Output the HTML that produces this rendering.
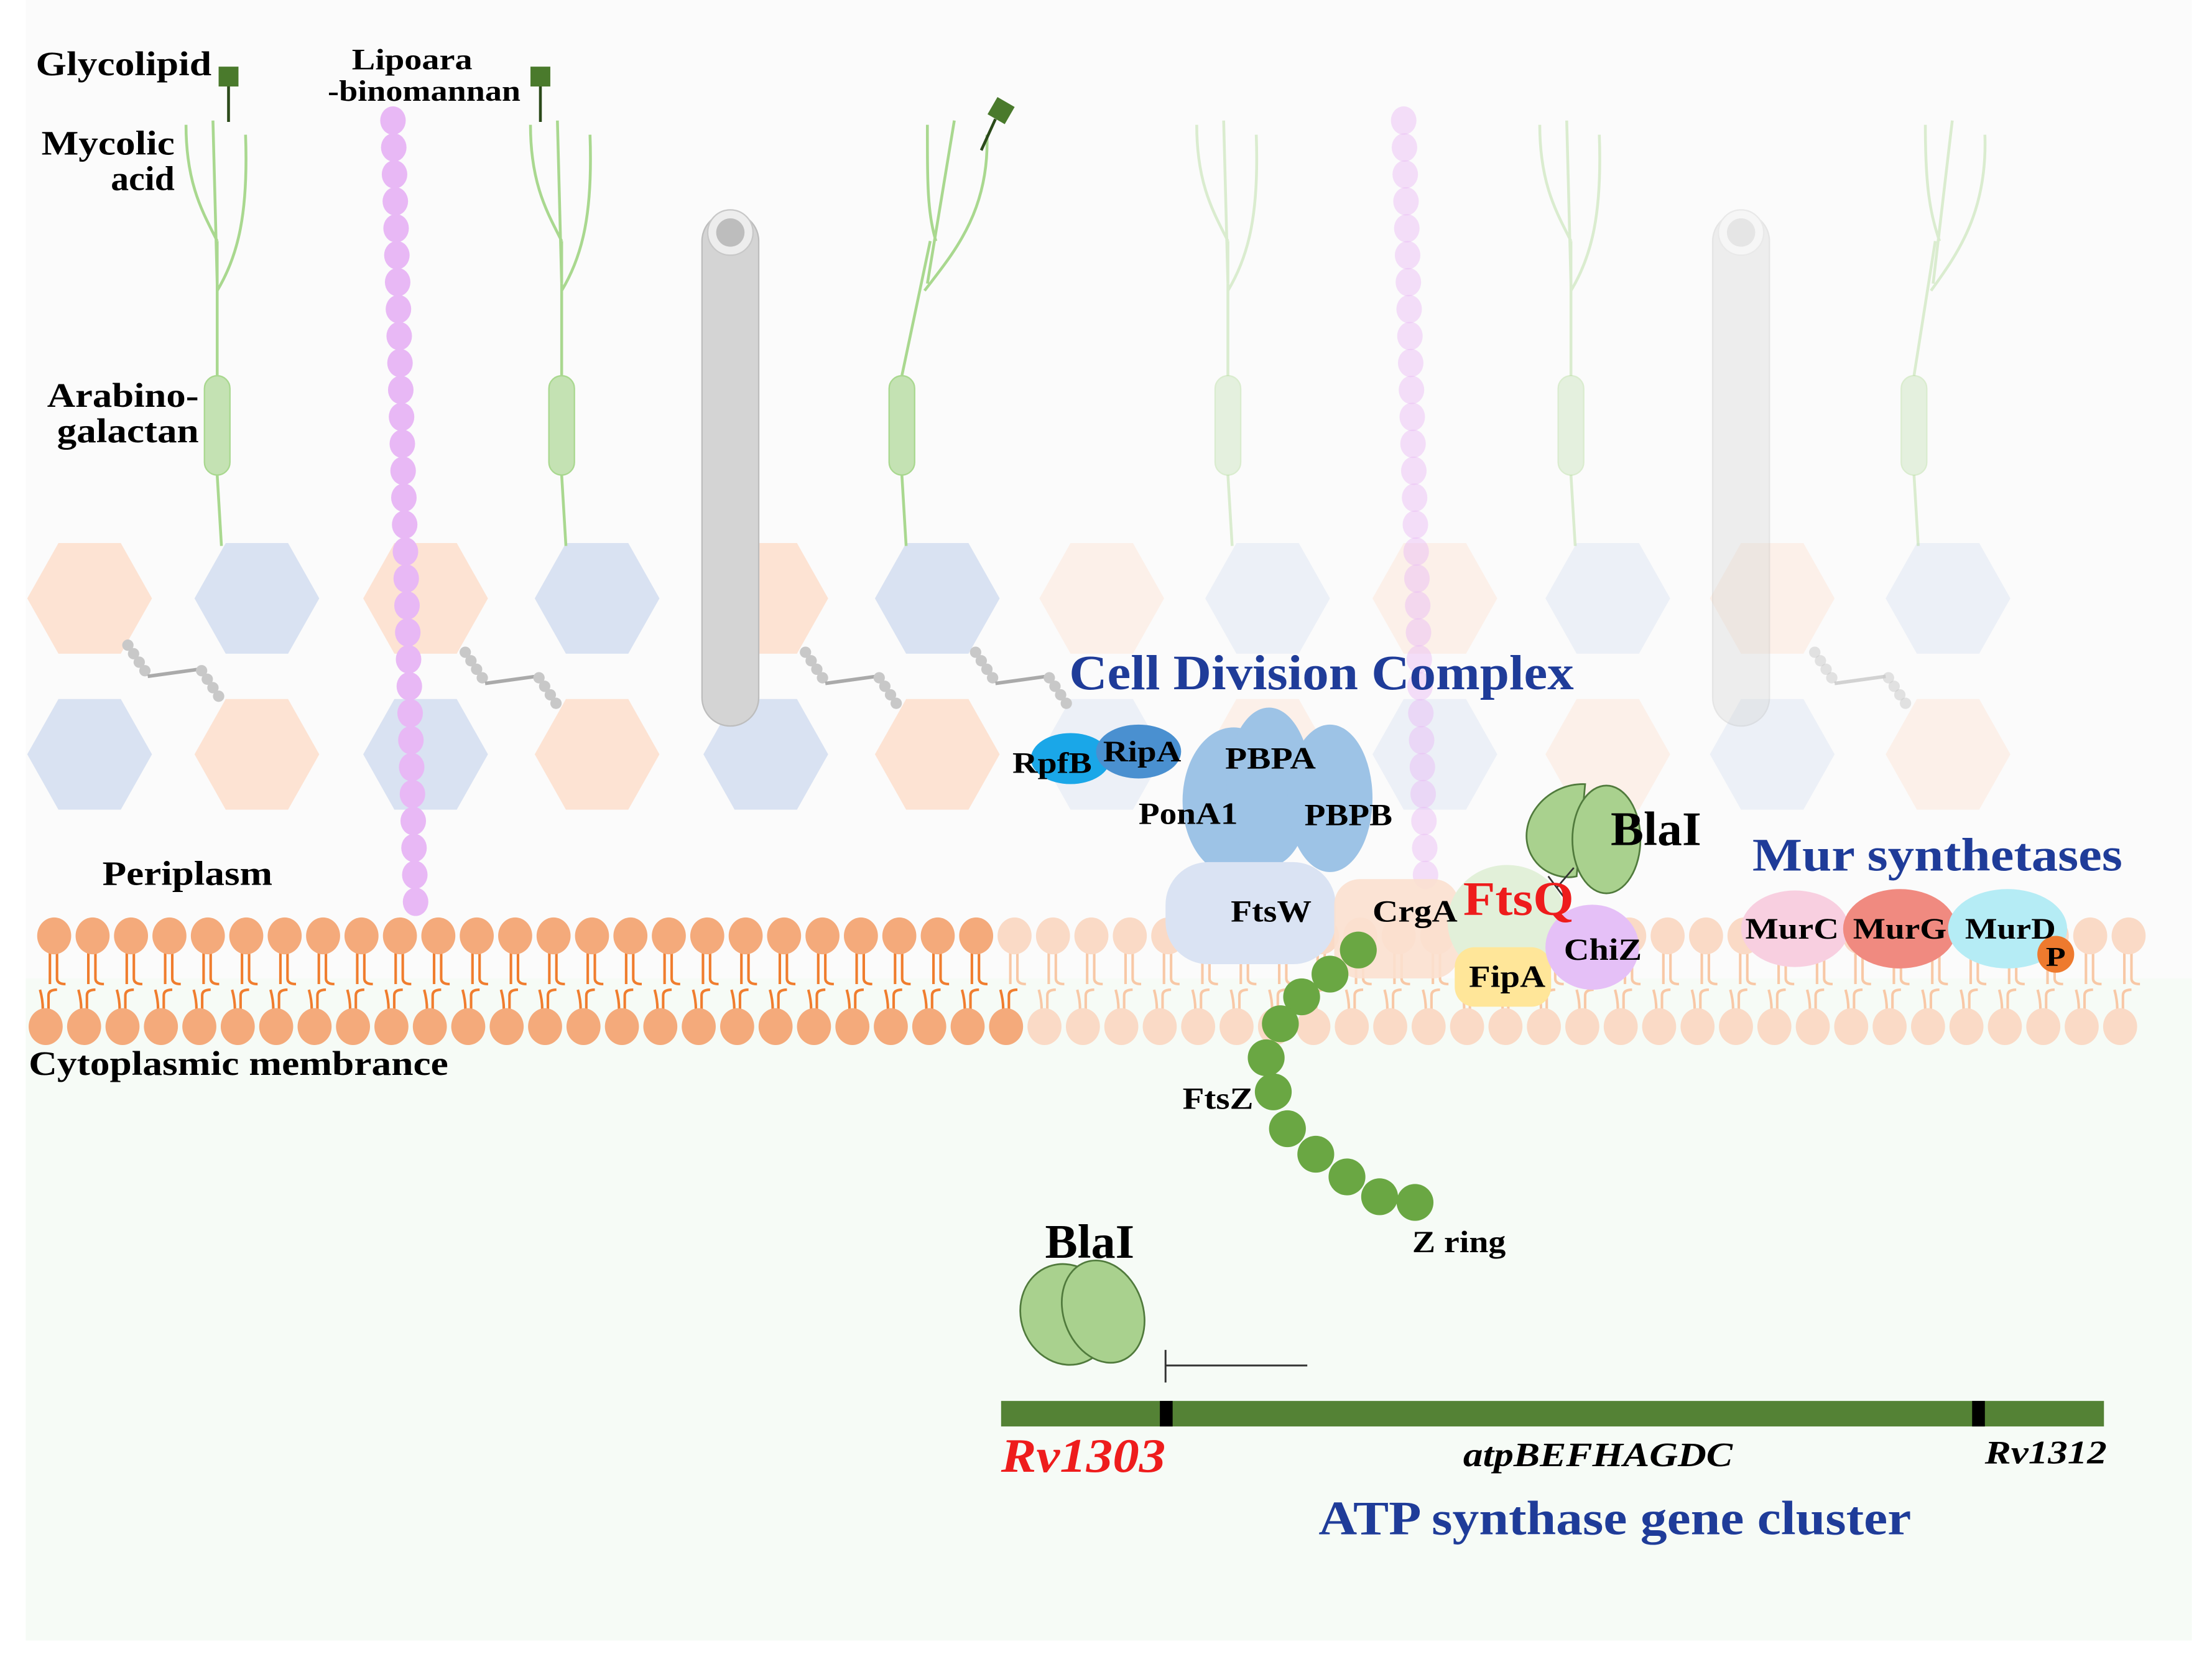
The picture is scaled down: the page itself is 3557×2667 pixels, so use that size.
<!DOCTYPE html>
<html><head><meta charset="utf-8">
<style>
html,body{margin:0;padding:0;background:#fff;}
svg{display:block;}
text{font-family:"Liberation Serif",serif;font-weight:bold;}
</style></head>
<body>
<svg id="s" width="3557" height="2667" viewBox="0 0 1560 1170" xmlns="http://www.w3.org/2000/svg">
<rect x="18" y="0" width="1528" height="690" fill="#fbfbfb"/>
<rect x="18" y="690" width="1528" height="467" fill="#f6fbf6"/>
<g id="hex"></g>
<g id="trees"></g>
<g id="lam"></g>
<rect x="495" y="150" width="40" height="362" rx="20" fill="#d4d4d4" stroke="#bdbdbd"/>
<circle cx="515" cy="164" r="16" fill="#ededed" stroke="#c8c8c8"/>
<circle cx="515" cy="164" r="10" fill="#bdbdbd"/>
<g opacity="0.35">
<rect x="1208" y="150" width="40" height="362" rx="20" fill="#d4d4d4" stroke="#bdbdbd"/>
<circle cx="1228" cy="164" r="16" fill="#ededed" stroke="#c8c8c8"/>
<circle cx="1228" cy="164" r="10" fill="#bdbdbd"/>
</g>
<g id="mem"></g>
<ellipse cx="870" cy="565" rx="36" ry="52" fill="#9dc3e6"/>
<ellipse cx="895" cy="555" rx="30" ry="56" fill="#9dc3e6"/>
<ellipse cx="938" cy="563" rx="30" ry="52" fill="#9dc3e6"/>
<rect x="822" y="608" width="120" height="72" rx="30" fill="#dae3f3"/>
<rect x="941" y="620" width="88" height="70" rx="18" fill="#fbe0cf" opacity="0.9"/>
<ellipse cx="1063" cy="650" rx="42" ry="40" fill="#e2f0d9"/>
<rect x="1026" y="668" width="68" height="42" rx="14" fill="#ffe699"/>
<ellipse cx="1123" cy="668" rx="33" ry="30" fill="#e5c0f7"/>
<ellipse cx="755" cy="535" rx="28" ry="18" fill="#1aa7e8"/>
<ellipse cx="803" cy="530" rx="30" ry="19" fill="#4a90d0"/>
<g stroke="#507a3c" stroke-width="1.2" fill="#a9d18e">
<path d="M1118,553 C1090,552 1068,580 1080,603 C1088,618 1105,620 1112,618 Z"/>
<ellipse cx="1133" cy="592" rx="24" ry="38"/>
</g>
<path d="M1110,612 L1098,626 M1092,618 L1104,634" stroke="#333" stroke-width="1.2" fill="none"/>
<ellipse cx="1266" cy="655" rx="38" ry="27" fill="#f8cfe0"/>
<ellipse cx="1340" cy="655" rx="40" ry="28" fill="#f08a80"/>
<ellipse cx="1416" cy="655" rx="42" ry="28" fill="#b5ecf5"/>
<circle cx="1450" cy="673" r="13" fill="#ee7a2e"/>
<g id="ftsz" fill="#6aa743"></g>
<g stroke="#507a3c" stroke-width="1.2" fill="#a9d18e">
<ellipse cx="752" cy="927" rx="32" ry="36" transform="rotate(-20 752 927)"/>
<ellipse cx="778" cy="925" rx="28" ry="37" transform="rotate(-20 778 925)"/>
</g>
<path d="M822,952 V975 M822,963 H922" stroke="#333" stroke-width="1.3" fill="none"/>
<rect x="706" y="988" width="778" height="18" fill="#548235"/>
<rect x="818" y="988" width="9" height="18" fill="#000"/>
<rect x="1391" y="988" width="9" height="18" fill="#000"/>
<g fill="#000" lengthAdjust="spacingAndGlyphs">
<text x="25" y="53" font-size="24" textLength="124" lengthAdjust="spacingAndGlyphs">Glycolipid</text>
<text x="248" y="49" font-size="21" textLength="85" lengthAdjust="spacingAndGlyphs">Lipoara</text>
<text x="231" y="71" font-size="21" textLength="136" lengthAdjust="spacingAndGlyphs">-binomannan</text>
<text x="29" y="109" font-size="24" textLength="94" lengthAdjust="spacingAndGlyphs">Mycolic</text>
<text x="78" y="134" font-size="24" textLength="45" lengthAdjust="spacingAndGlyphs">acid</text>
<text x="33" y="287" font-size="24" textLength="107" lengthAdjust="spacingAndGlyphs">Arabino-</text>
<text x="40" y="312" font-size="24" textLength="100" lengthAdjust="spacingAndGlyphs">galactan</text>
<text x="72" y="624" font-size="24" textLength="120" lengthAdjust="spacingAndGlyphs">Periplasm</text>
<text x="20" y="758" font-size="24" textLength="296" lengthAdjust="spacingAndGlyphs">Cytoplasmic membrance</text>
<text x="714" y="545" font-size="21" textLength="56" lengthAdjust="spacingAndGlyphs">RpfB</text>
<text x="778" y="537" font-size="21" textLength="55" lengthAdjust="spacingAndGlyphs">RipA</text>
<text x="864" y="542" font-size="22" textLength="64" lengthAdjust="spacingAndGlyphs">PBPA</text>
<text x="803" y="581" font-size="22" textLength="70" lengthAdjust="spacingAndGlyphs">PonA1</text>
<text x="920" y="582" font-size="22" textLength="62" lengthAdjust="spacingAndGlyphs">PBPB</text>
<text x="868" y="650" font-size="22" textLength="57" lengthAdjust="spacingAndGlyphs">FtsW</text>
<text x="968" y="650" font-size="22" textLength="60" lengthAdjust="spacingAndGlyphs">CrgA</text>
<text x="1036" y="696" font-size="22" textLength="54" lengthAdjust="spacingAndGlyphs">FipA</text>
<text x="1103" y="677" font-size="22" textLength="55" lengthAdjust="spacingAndGlyphs">ChiZ</text>
<text x="1136" y="596" font-size="34" textLength="64" lengthAdjust="spacingAndGlyphs">BlaI</text>
<text x="1231" y="662" font-size="21" textLength="66" lengthAdjust="spacingAndGlyphs">MurC</text>
<text x="1307" y="662" font-size="21" textLength="66" lengthAdjust="spacingAndGlyphs">MurG</text>
<text x="1386" y="662" font-size="21" textLength="64" lengthAdjust="spacingAndGlyphs">MurD</text>
<text x="1443" y="681" font-size="19" textLength="14" lengthAdjust="spacingAndGlyphs">P</text>
<text x="834" y="782" font-size="22" textLength="50" lengthAdjust="spacingAndGlyphs">FtsZ</text>
<text x="996" y="883" font-size="22" textLength="66" lengthAdjust="spacingAndGlyphs">Z ring</text>
<text x="737" y="887" font-size="34" textLength="63" lengthAdjust="spacingAndGlyphs">BlaI</text>
<text x="1032" y="1034" font-size="24" font-style="italic" textLength="190" lengthAdjust="spacingAndGlyphs">atpBEFHAGDC</text>
<text x="1400" y="1032" font-size="23" font-style="italic" textLength="86" lengthAdjust="spacingAndGlyphs">Rv1312</text>
</g>
<text x="706" y="1038" font-size="34" font-style="italic" fill="#ee1c1c" textLength="116" lengthAdjust="spacingAndGlyphs">Rv1303</text>
<text x="1032" y="645" font-size="34" fill="#ee1c1c" textLength="78" lengthAdjust="spacingAndGlyphs">FtsQ</text>
<text x="754" y="486" font-size="35" fill="#1f3c99" textLength="356" lengthAdjust="spacingAndGlyphs">Cell Division Complex</text>
<text x="1236" y="614" font-size="33" fill="#1f3c99" textLength="261" lengthAdjust="spacingAndGlyphs">Mur synthetases</text>
<text x="930" y="1082" font-size="34" fill="#1f3c99" textLength="418" lengthAdjust="spacingAndGlyphs">ATP synthase gene cluster</text>
</svg>
<script>
var NS="http://www.w3.org/2000/svg";
function el(p,t,a){var e=document.createElementNS(NS,t);for(var k in a)e.setAttribute(k,a[k]);document.getElementById(p).appendChild(e);return e;}
function hex(cx,cy,c,o){var w=44,h=39;el("hex","polygon",{points:(cx-w)+","+cy+" "+(cx-w/2)+","+(cy-h)+" "+(cx+w/2)+","+(cy-h)+" "+(cx+w)+","+cy+" "+(cx+w/2)+","+(cy+h)+" "+(cx-w/2)+","+(cy+h),fill:c,opacity:o});}
var O="#fde3d3",B="#d9e2f2";
var xs=[63,181,300,421,540,661,777,894,1012,1134,1250,1374];
xs.forEach(function(x,i){var o=x<700?1:0.45;hex(x,422,i%2?B:O,o);hex(x,532,i%2?O:B,o);});
[[90,455],[328,460],[568,460],[688,460],[1280,460]].forEach(function(p,i){var x=p[0],y=p[1],o=x<700?1:0.5;
for(var k=0;k<4;k++)el("hex","circle",{cx:x+k*4,cy:y+k*6,r:4,fill:"#c8c8c8",opacity:o});
el("hex","path",{d:"M"+(x+14)+","+(y+22)+" L"+(x+50)+","+(y+17),stroke:"#aaa","stroke-width":2.5,opacity:o});
for(var k=0;k<4;k++)el("hex","circle",{cx:x+52+k*4,cy:y+18+k*6,r:4,fill:"#c8c8c8",opacity:o});});
function tree(x,o,tilt){var g="#a9d88f";var t=tilt||0;
el("trees","path",{d:"M"+(x-22+t)+",88 C"+(x-22+t)+",130 "+(x-10+t*0.7)+",150 "+(x+t*0.6)+",170 M"+(x-3+t)+",85 L"+(x+t*0.45)+",200 M"+(x+20+t)+",95 C"+(x+22+t)+",150 "+(x+15+t*0.5)+",180 "+(x+t*0.4)+",205 M"+(x+t*0.5)+",170 L"+x+",265 M"+x+",335 L"+(x+3)+",385",stroke:g,"stroke-width":2,fill:"none",opacity:o});
el("trees","rect",{x:x-9,y:265,width:18,height:70,rx:9,fill:"#c4e2b3",stroke:"#a9d88f",opacity:o});}
tree(153,1,0);tree(396,1,0);tree(636,1,40);tree(866,0.4,0);tree(1108,0.4,0);tree(1350,0.4,30);
el("trees","rect",{x:154,y:47,width:14,height:14,fill:"#4a7a2c"});el("trees","path",{d:"M161,61 V86",stroke:"#2b4a1a","stroke-width":2});
el("trees","rect",{x:374,y:47,width:14,height:14,fill:"#4a7a2c"});el("trees","path",{d:"M381,61 V86",stroke:"#2b4a1a","stroke-width":2});
el("trees","rect",{x:699,y:71,width:14,height:14,fill:"#4a7a2c",transform:"rotate(30 706 78)"});el("trees","path",{d:"M702,84 L692,106",stroke:"#2b4a1a","stroke-width":2});
for(var i=0;i<30;i++){var y=85+i*19;el("lam","ellipse",{cx:277+i*0.55,cy:y,rx:9,ry:10,fill:"#e8b8f5"});}
for(var i=0;i<29;i++){var y=85+i*19;el("lam","ellipse",{cx:990+i*0.55,cy:y,rx:9,ry:10,fill:"#e8b8f5",opacity:0.45});}
for(var i=0;i<55;i++){var x=38+i*27.1;var d=x<715;var hc=d?"#f4aa7b":"#fadac6",tc=d?"#f07d2e":"#f8c8a6";
el("mem","path",{d:"M"+(x-3)+",672 V694 M"+(x+2)+",672 V690 Q"+(x+2)+",694 "+(x+8)+",694",stroke:tc,"stroke-width":1.8,fill:"none"});
el("mem","ellipse",{cx:x,cy:660,rx:12,ry:13,fill:hc});}
for(var i=0;i<55;i++){var x=32+i*27.1;var d=x<715;var hc=d?"#f4aa7b":"#fadac6",tc=d?"#f07d2e":"#f8c8a6";
el("mem","path",{d:"M"+(x-4)+",698 Q"+(x-2)+",705 "+(x-2)+",712 M"+(x+2)+",712 V702 Q"+(x+2)+",698 "+(x+8)+",698",stroke:tc,"stroke-width":1.8,fill:"none"});
el("mem","ellipse",{cx:x,cy:724,rx:12,ry:13,fill:hc});}
[[958,670],[938,687],[918,703],[903,722],[893,746],[898,770],[908,796],[928,814],[950,830],[973,844],[998,848]].forEach(function(p){el("ftsz","circle",{cx:p[0],cy:p[1],r:13});});
</script>
</body></html>
